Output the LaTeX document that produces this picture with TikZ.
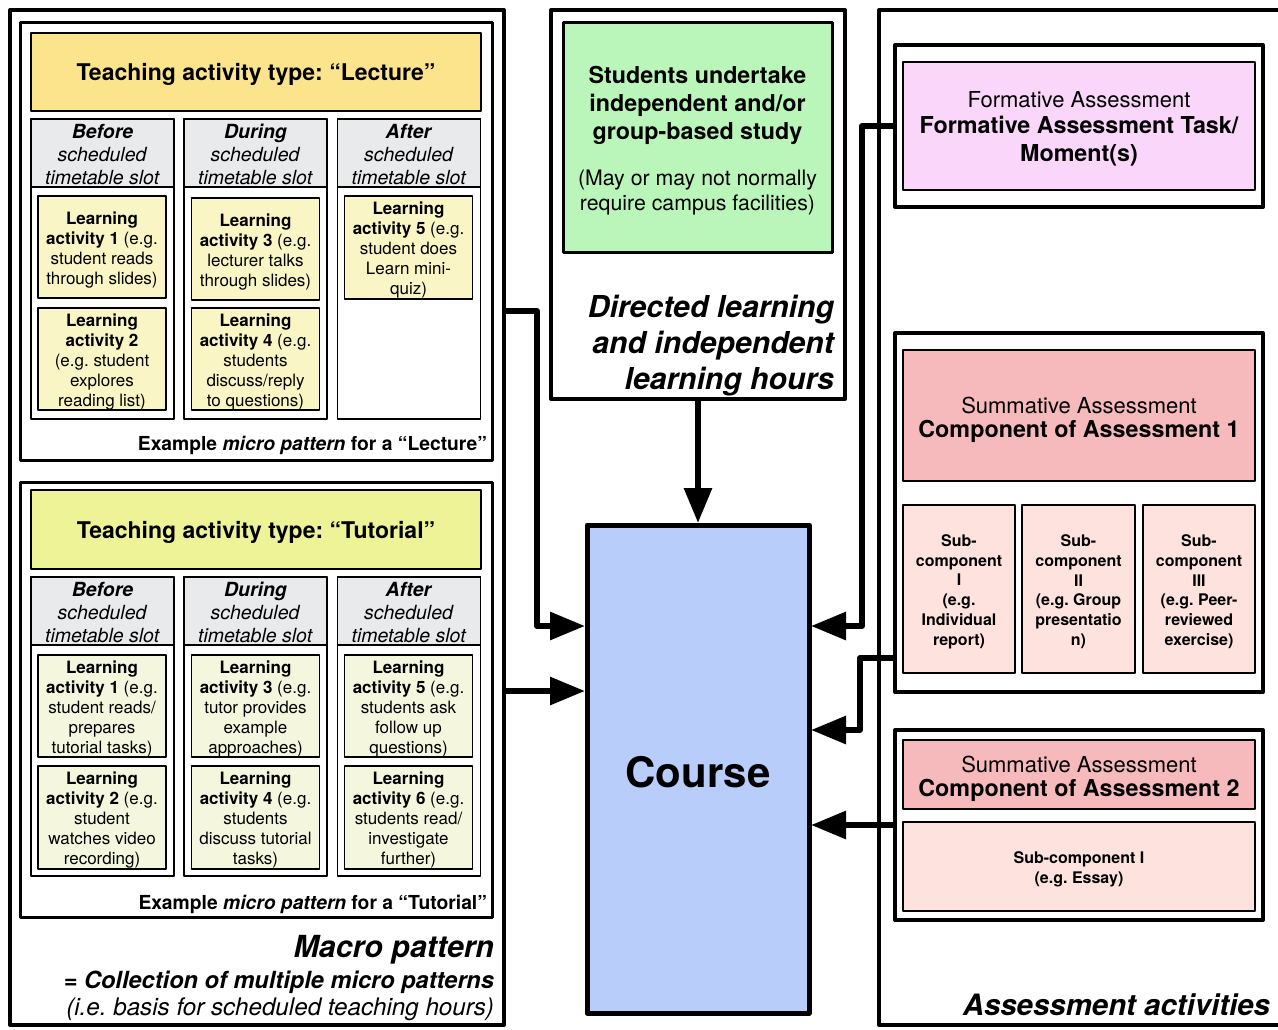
\documentclass[tikz,border=0pt]{standalone}
\usepackage{fontspec}
\setmainfont{TeX Gyre Heros}
\usetikzlibrary{arrows.meta}
\definecolor{lecT}{RGB}{252,228,141}
\definecolor{hdr}{RGB}{232,234,236}
\definecolor{actY}{RGB}{250,245,196}
\definecolor{tutT}{RGB}{238,243,152}
\definecolor{tutA}{RGB}{244,247,222}
\definecolor{grn}{RGB}{186,246,186}
\definecolor{crs}{RGB}{185,205,250}
\definecolor{pnk}{RGB}{250,214,250}
\definecolor{sumT}{RGB}{246,185,188}
\definecolor{subC}{RGB}{253,226,222}
\newcommand\myfs[2]{\fontsize{#1}{#2}\selectfont}
% text placed in the middle of a named box, lowered slightly
\newcommand\btext[3]{\node[tx,#2] (#1-t) at ([yshift=-2.7pt]#1.center) {#3};}
\frenchspacing
\begin{document}
\frenchspacing
\begin{tikzpicture}[x=1pt,y=-1pt,
  bx/.style={draw, rectangle, inner sep=0pt, outer sep=0pt, line join=round},
  tx/.style={align=center, inner sep=0pt, outer sep=0pt},
  thin/.style={bx, line width=1.5pt},
  act/.style={thin, minimum width=128pt, minimum height=102pt},
  actf/.style={font=\myfs{17}{20}},
  hd/.style={thin, fill=hdr, minimum width=143pt, minimum height=68pt},
  hdf/.style={font=\myfs{19.5}{23}, yshift=1.2pt},
  col/.style={thin, minimum width=143pt},
  subbox/.style={thin, fill=subC, minimum height=168pt},
  subf/.style={font=\myfs{16}{19.8}\bfseries},
  conn/.style={line width=6pt, line join=round, shorten >=2pt, -{Triangle[length=35pt,width=27pt]}}
]
\useasboundingbox (0,0) rectangle (1278,1029);
\clip (0,0) rectangle (1278,1029);

% ---------------- Macro pattern ----------------
\node[bx, line width=4pt, minimum width=494pt, minimum height=1015pt] (macro) at (257,517.5) {};

% Lecture micro pattern
\node[bx, line width=3pt, minimum width=472pt, minimum height=438pt] (lec) at (256,241) {};
\node[thin, fill=lecT, minimum width=450pt, minimum height=78pt] (lecT) at (256,72) {};
\btext{lecT}{font=\myfs{23}{27}\bfseries}{Teaching activity type: “Lecture”}
\node[col, minimum height=300pt] (lcol1) at (102.5,269) {};
\node[col, minimum height=300pt] (lcol2) at (255.5,269) {};
\node[col, minimum height=300pt] (lcol3) at (409,269) {};
\node[hd] (lhd1) at (102.5,153) {};
\node[hd] (lhd2) at (255.5,153) {};
\node[hd] (lhd3) at (409,153) {};
\btext{lhd1}{hdf}{\textbf{\textit{Before}}\\\textit{scheduled}\\\textit{timetable slot}}
\btext{lhd2}{hdf}{\textbf{\textit{During}}\\\textit{scheduled}\\\textit{timetable slot}}
\btext{lhd3}{hdf}{\textbf{\textit{After}}\\\textit{scheduled}\\\textit{timetable slot}}
\node[act, fill=actY] (la1) at (102,247) {};
\node[act, fill=actY] (la2) at (102,359) {};
\node[act, fill=actY] (la3) at (255.5,249) {};
\node[act, fill=actY] (la4) at (255.5,359) {};
\node[act, fill=actY, minimum height=103pt] (la5) at (408.5,247.5) {};
\btext{la1}{actf}{\textbf{Learning}\\\textbf{activity 1} (e.g.\\student reads\\through slides)}
\btext{la2}{actf}{\textbf{Learning}\\\textbf{activity 2}\\(e.g. student\\explores\\reading list)}
\btext{la3}{actf}{\textbf{Learning}\\\textbf{activity 3} (e.g.\\lecturer talks\\through slides)}
\btext{la4}{actf}{\textbf{Learning}\\\textbf{activity 4} (e.g.\\students\\discuss/reply\\to questions)}
\btext{la5}{actf}{\textbf{Learning}\\\textbf{activity 5} (e.g.\\student does\\Learn mini-\\quiz)}
\node[tx, anchor=east, font=\myfs{19.3}{23}\bfseries] (lecEx) at (487,445) {Example \textit{micro pattern} for a “Lecture”};

% Tutorial micro pattern
\node[bx, line width=3pt, minimum width=472pt, minimum height=435pt] (tut) at (256,699.5) {};
\node[thin, fill=tutT, minimum width=450pt, minimum height=79pt] (tutT) at (256,529.5) {};
\btext{tutT}{font=\myfs{23}{27}\bfseries}{Teaching activity type: “Tutorial”}
\node[col, minimum height=299pt] (tcol1) at (102.5,726.5) {};
\node[col, minimum height=299pt] (tcol2) at (255.5,726.5) {};
\node[col, minimum height=299pt] (tcol3) at (409,726.5) {};
\node[hd] (thd1) at (102.5,611) {};
\node[hd] (thd2) at (255.5,611) {};
\node[hd] (thd3) at (409,611) {};
\btext{thd1}{hdf}{\textbf{\textit{Before}}\\\textit{scheduled}\\\textit{timetable slot}}
\btext{thd2}{hdf}{\textbf{\textit{During}}\\\textit{scheduled}\\\textit{timetable slot}}
\btext{thd3}{hdf}{\textbf{\textit{After}}\\\textit{scheduled}\\\textit{timetable slot}}
\node[act, fill=tutA] (ta1) at (102,706) {};
\node[act, fill=tutA, minimum height=103pt] (ta2) at (102,817.5) {};
\node[act, fill=tutA] (ta3) at (255.5,706) {};
\node[act, fill=tutA, minimum height=103pt] (ta4) at (255.5,817.5) {};
\node[act, fill=tutA] (ta5) at (408.5,706) {};
\node[act, fill=tutA, minimum height=103pt] (ta6) at (408.5,817.5) {};
\btext{ta1}{actf}{\textbf{Learning}\\\textbf{activity 1} (e.g.\\student reads/\\prepares\\tutorial tasks)}
\btext{ta2}{actf}{\textbf{Learning}\\\textbf{activity 2} (e.g.\\student\\watches video\\recording)}
\btext{ta3}{actf}{\textbf{Learning}\\\textbf{activity 3} (e.g.\\tutor provides\\example\\approaches)}
\btext{ta4}{actf}{\textbf{Learning}\\\textbf{activity 4} (e.g.\\students\\discuss tutorial\\tasks)}
\btext{ta5}{actf}{\textbf{Learning}\\\textbf{activity 5} (e.g.\\students ask\\follow up\\questions)}
\btext{ta6}{actf}{\textbf{Learning}\\\textbf{activity 6} (e.g.\\students read/\\investigate\\further)}
\node[tx, anchor=east, font=\myfs{19.3}{23}\bfseries] (tutEx) at (487,904) {Example \textit{micro pattern} for a “Tutorial”};

\node[tx, anchor=east, font=\myfs{30.4}{36}\bfseries\itshape] (mac1) at (494,950) {Macro pattern};
\node[tx, anchor=east, font=\myfs{23.6}{28}\bfseries\itshape] (mac2) at (494,982.5) {= Collection of multiple micro patterns};
\node[tx, anchor=east, font=\myfs{24.2}{28}\itshape] (mac3) at (494,1009.5) {(i.e. basis for scheduled teaching hours)};

% ---------------- Directed learning ----------------
\node[bx, line width=4pt, minimum width=294pt, minimum height=389pt] (dir) at (698,204.5) {};
\node[bx, line width=3pt, fill=grn, minimum width=269pt, minimum height=230pt] (grn) at (697.5,137) {};
\node[tx, font=\myfs{23.3}{28}\bfseries] (g1) at (697.5,105.5) {Students undertake\\independent and/or\\group-based study};
\node[tx, font=\myfs{21.3}{25}] (g2) at (697.5,193) {(May or may not normally\\require campus facilities)};
\node[tx, anchor=east, align=right, font=\myfs{30.2}{36}\bfseries\itshape] (dirT) at (834,345.5) {Directed learning\\and independent\\learning hours};

% ---------------- Course ----------------
\node[bx, line width=5pt, fill=crs, minimum width=222pt, minimum height=488pt] (course) at (698,769) {};
\btext{course}{font=\myfs{42}{48}\bfseries}{Course}

% ---------------- Assessment ----------------
\node[bx, line width=4pt, minimum width=420pt, minimum height=1015pt] (ass) at (1089,517.5) {};
\node[tx, anchor=east, font=\myfs{29.4}{35}\bfseries\itshape] (assT) at (1270,1005) {Assessment activities};

\node[bx, line width=4pt, minimum width=368pt, minimum height=162pt] (form) at (1079,126) {};
\node[thin, fill=pnk, minimum width=352pt, minimum height=128pt] (formI) at (1079,126) {};
\node[tx, font=\myfs{22}{27}] (f1) at (1079,100) {Formative Assessment};
\node[tx, font=\myfs{23.3}{28}\bfseries] (f2) at (1079,141.5) {Formative Assessment Task/\\Moment(s)};

\node[bx, line width=4pt, minimum width=368pt, minimum height=359pt] (sum1) at (1079,512.5) {};
\node[thin, fill=sumT, minimum width=352pt, minimum height=131pt] (sum1T) at (1079,415.5) {};
\node[tx, font=\myfs{22}{27}] (s1a) at (1079,405) {Summative Assessment};
\node[tx, font=\myfs{23.3}{28}\bfseries] (s1b) at (1079,431) {Component of Assessment 1};
\node[subbox, minimum width=112pt] (sc1) at (959,589) {};
\node[subbox, minimum width=113pt] (sc2) at (1078.5,589) {};
\node[subbox, minimum width=112pt] (sc3) at (1199,589) {};
\btext{sc1}{subf}{Sub-\\component\\I\\(e.g.\\Individual\\report)}
\btext{sc2}{subf}{Sub-\\component\\II\\(e.g. Group\\presentatio\\n)}
\btext{sc3}{subf}{Sub-\\component\\III\\(e.g. Peer-\\reviewed\\exercise)}

\node[bx, line width=4pt, minimum width=368pt, minimum height=190pt] (sum2) at (1079,825) {};
\node[thin, fill=sumT, minimum width=352pt, minimum height=69pt] (sum2T) at (1079,774.5) {};
\node[tx, font=\myfs{22}{27}] (s2a) at (1079,764) {Summative Assessment};
\node[tx, font=\myfs{23.3}{28}\bfseries] (s2b) at (1079,790) {Component of Assessment 2};
\node[thin, fill=subC, minimum width=352pt, minimum height=89pt] (s2sub) at (1079,866.5) {};
\btext{s2sub}{font=\myfs{16}{20}\bfseries}{Sub-component I\\(e.g. Essay)}

% ---------------- Connectors ----------------
\draw[conn] (macro.east |- 0,311) -- (537,311) -- (537,626) -- (course.west |- 0,626);
\draw[conn] (macro.east |- 0,691) -- (course.west |- 0,691);
\draw[conn] (dir.south) -- (course.north);
\draw[conn] (form.west) -- (862,126) -- (862,626) -- (course.east |- 0,626);
\draw[conn] (sum1.west |- 0,658) -- (860,658) -- (860,730) -- (course.east |- 0,730);
\draw[conn] (sum2.west) -- (course.east |- 0,825);
\end{tikzpicture}
\end{document}
